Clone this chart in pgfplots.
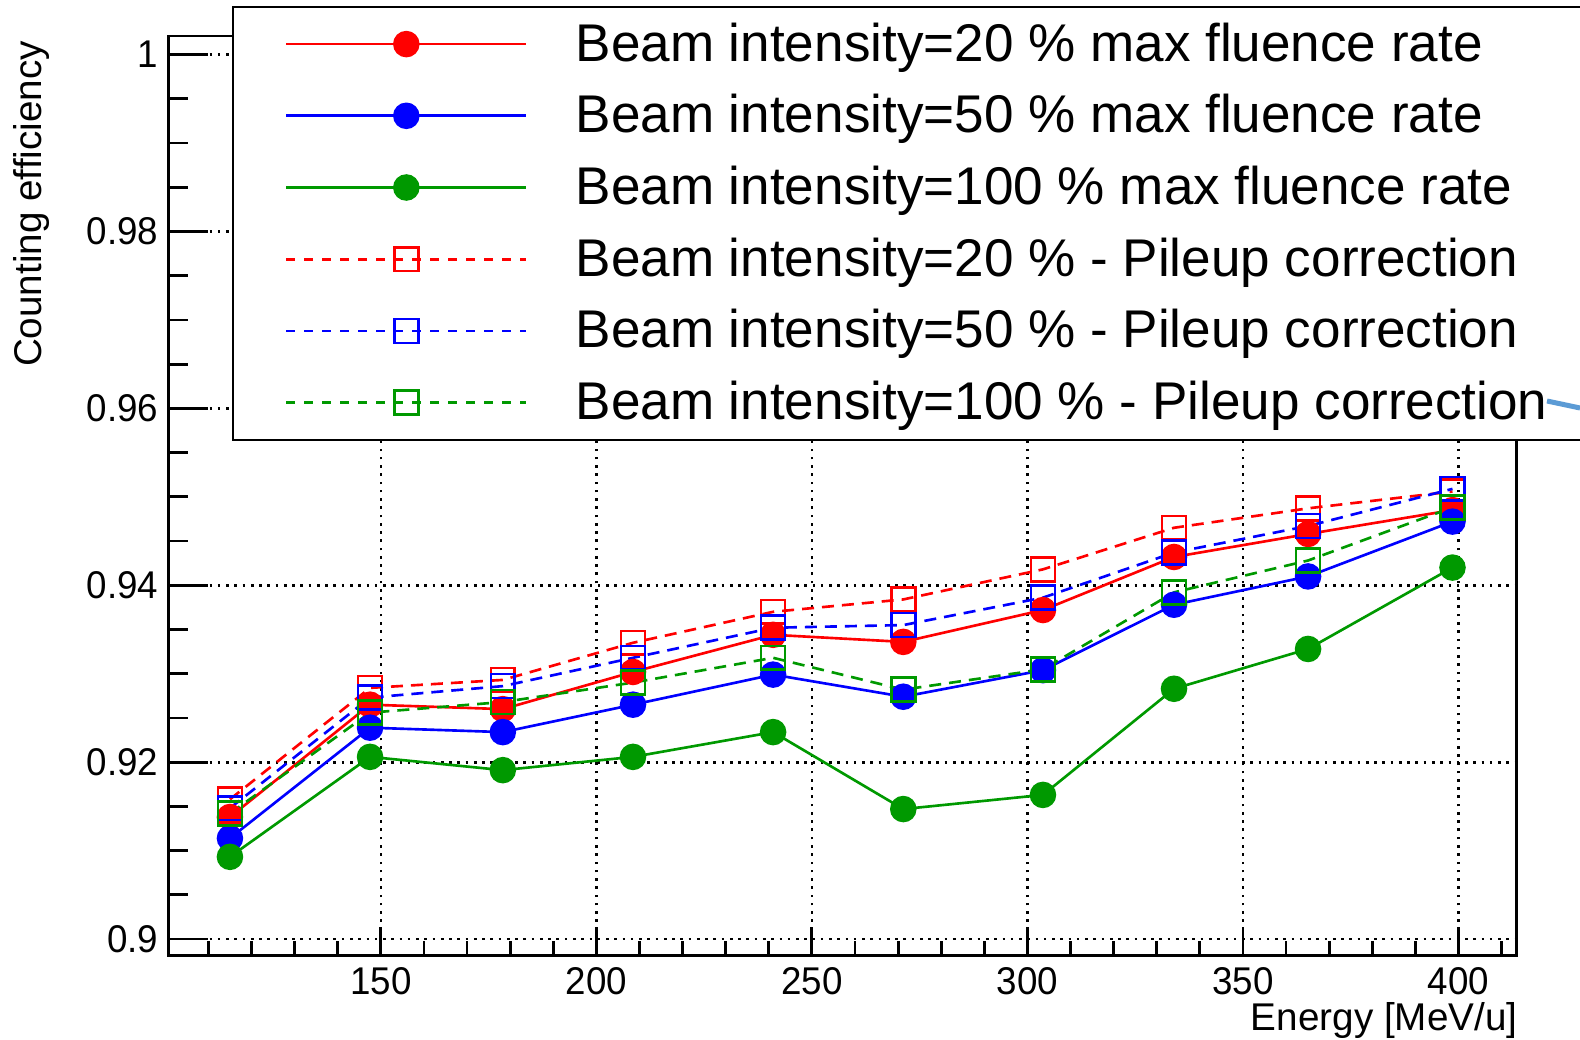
\documentclass[border=0pt]{standalone}
\usepackage{fontspec}
\setmainfont{Liberation Sans}
\usepackage{pgfplots}
\pgfplotsset{compat=1.18}
\definecolor{rgreen}{RGB}{0,153,0}
\definecolor{arrowblue}{RGB}{91,155,213}
\pgfplotsset{dashleg/.style={legend image code/.code={\draw[mark repeat=2,mark phase=2,##1,dash pattern=on 0.09cm off 0.09cm] plot coordinates {(0cm,0cm) (1.2cm,0cm) (2.4cm,0cm)};}}}
\begin{document}
\begin{tikzpicture}[x=1cm,y=1cm]
\useasboundingbox (0,0) rectangle (15.8,10.39);
\begin{axis}[
  scale only axis, width=13.484cm, height=9.19cm,
  at={(1.683cm,0.84cm)}, anchor=south west,
  xmin=100.7, xmax=413.5, ymin=0.8982, ymax=1.0021,
  xtick={150,200,250,300,350,400},
  ytick={0.9,0.92,0.94,0.96,0.98,1},
  yticklabels={0.9,0.92,0.94,0.96,0.98,1},
  minor xtick={110,120,130,140,160,170,180,190,210,220,230,240,260,270,280,290,310,320,330,340,360,370,380,390,410},
  minor ytick={0.905,0.91,0.915,0.925,0.93,0.935,0.945,0.95,0.955,0.965,0.97,0.975,0.985,0.99,0.995},
  xtick pos=left, ytick pos=left, tick align=inside,
  xtick style={/pgfplots/major tick length=0.276cm,/pgfplots/minor tick length=0.14cm, line width=0.8pt, black},
  ytick style={/pgfplots/major tick length=0.40cm,/pgfplots/minor tick length=0.20cm, line width=0.8pt, black},
  minor tick style={line width=0.8pt, black},
  axis line style={line width=0.85pt},
  grid=major,
  major grid style={black, line width=0.75pt, dash pattern=on 0.75pt off 1.6pt},
  /pgf/number format/assume math mode=true,
  tick label style={font=\fontsize{11}{13}\selectfont, xscale=0.95},
  yticklabel style={anchor=east, inner sep=0pt, xshift=-0.1cm},
  xticklabel style={anchor=north, inner sep=0pt, yshift=-0.12cm},
  xlabel={Energy [MeV/u]},
  ylabel={Counting efficiency},
  every axis x label/.style={at={(axis description cs:1.001,-0.0826)}, anchor=base east, inner sep=0pt, font=\fontsize{11}{13}\selectfont},
  every axis y label/.style={at={(axis description cs:-0.0937,0.9953)}, rotate=90, anchor=base east, inner sep=0pt, font=\fontsize{11}{13}\selectfont},
  legend image code/.code={\draw[mark repeat=2,mark phase=2,#1] plot coordinates {(0cm,0cm) (1.2cm,0cm) (2.4cm,0cm)};},
  legend cell align=left,
  legend style={at={(axis description cs:0.0472,1.0326)}, anchor=north west,
    draw=black, fill=white, line width=0.6pt,
    inner xsep=0.52cm, inner ysep=0.12cm,
    column sep=0.48cm, row sep=0.217cm,
    nodes={inner sep=0pt, text height=0.42cm, text depth=0.08cm, font=\fontsize{15.1}{18}\selectfont}},
  every axis plot/.append style={line width=0.75pt},
]
\addplot[color=red, mark=*, mark size=3.4pt] coordinates {
(115,0.9138) (147.5,0.9265) (178.3,0.9260) (208.5,0.9302) (241,0.9344)
(271.2,0.9336) (303.6,0.9372) (334,0.9432) (365.1,0.9458) (398.6,0.9485)};
\addlegendentry{\makebox[10.6cm][l]{Beam intensity=20 \% max fluence rate}}
\addplot[color=blue, mark=*, mark size=3.4pt] coordinates {
(115,0.9114) (147.5,0.9239) (178.3,0.9234) (208.5,0.9265) (241,0.9299)
(271.2,0.9274) (303.6,0.9304) (334,0.9378) (365.1,0.9410) (398.6,0.9472)};
\addlegendentry{\makebox[10.6cm][l]{Beam intensity=50 \% max fluence rate}}
\addplot[color=rgreen, mark=*, mark size=3.4pt] coordinates {
(115,0.9093) (147.5,0.9206) (178.3,0.9191) (208.5,0.9206) (241,0.9234)
(271.2,0.9147) (303.6,0.9163) (334,0.9283) (365.1,0.9328) (398.6,0.9420)};
\addlegendentry{\makebox[10.6cm][l]{Beam intensity=100 \% max fluence rate}}
\addplot[color=red, dash pattern=on 0.12cm off 0.08cm, mark=square, mark size=3.4pt, mark options={solid}, dashleg] coordinates {
(115,0.9158) (147.5,0.9284) (178.3,0.9293) (208.5,0.9335) (241,0.9370)
(271.2,0.9384) (303.6,0.9418) (334,0.9465) (365.1,0.9487) (398.6,0.9506)};
\addlegendentry{\makebox[10.6cm][l]{Beam intensity=20 \% - Pileup correction}}
\addplot[color=blue, dash pattern=on 0.12cm off 0.08cm, mark=square, mark size=3.4pt, mark options={solid}, dashleg] coordinates {
(115,0.9148) (147.5,0.9273) (178.3,0.9286) (208.5,0.9318) (241,0.9352)
(271.2,0.9355) (303.6,0.9386) (334,0.9437) (365.1,0.9467) (398.6,0.9509)};
\addlegendentry{\makebox[10.6cm][l]{Beam intensity=50 \% - Pileup correction}}
\addplot[color=rgreen, dash pattern=on 0.12cm off 0.08cm, mark=square, mark size=3.4pt, mark options={solid}, dashleg] coordinates {
(115,0.9142) (147.5,0.9256) (178.3,0.9268) (208.5,0.9290) (241,0.9318)
(271.2,0.9282) (303.6,0.9305) (334,0.9392) (365.1,0.9428) (398.6,0.9488)};
\addlegendentry{\makebox[10.6cm][l]{Beam intensity=100 \% - Pileup correction}}
\end{axis}
\draw[arrowblue, line width=0.05cm] (15.47,6.38) -- (15.8,6.31);
\end{tikzpicture}
\end{document}
